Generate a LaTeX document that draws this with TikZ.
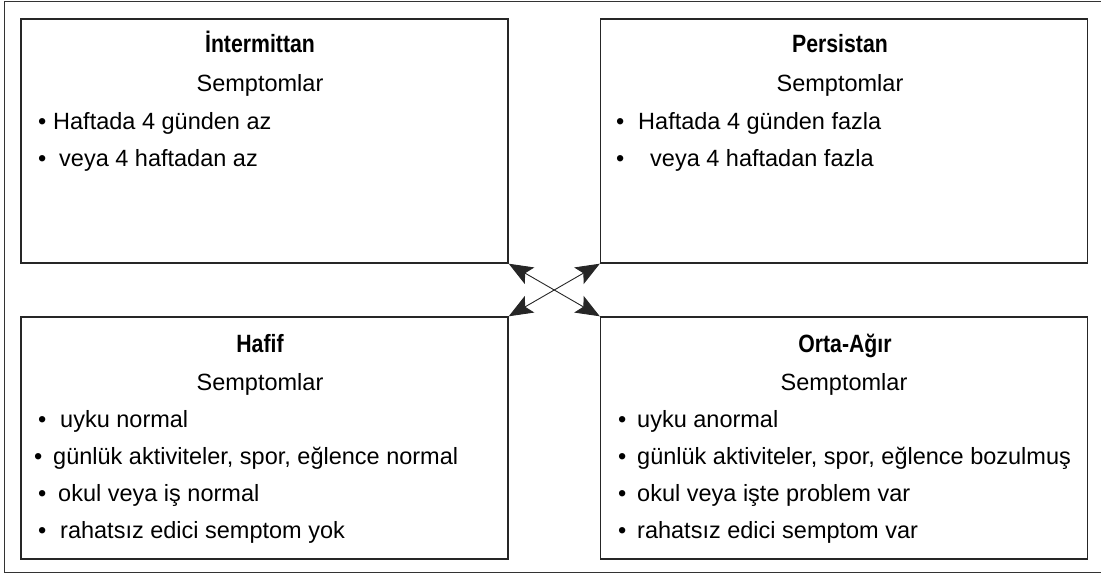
\documentclass[tikz,border=0pt]{standalone}
\usepackage{fontspec}
\setmainfont{Liberation Sans}
\newfontfamily\titlefont[FakeStretch=0.85]{Liberation Sans}
\usetikzlibrary{arrows.meta}

% bullet followed by a gap (in pt)
\newcommand{\itm}[1]{\textbullet\hspace{#1pt}}

\begin{document}
\begin{tikzpicture}[
    x=1pt, y=-1pt,
    font=\fontsize{23.5}{28}\selectfont,
    box/.style={draw=black!85, line width=1.4pt, minimum width=487pt, inner sep=0pt},
    head/.style={anchor=base, inner sep=0pt, font=\fontsize{25}{30}\selectfont\titlefont\bfseries},
    sub/.style={anchor=base, inner sep=0pt},
    item/.style={anchor=base west, inner sep=0pt},
    link/.style={{Stealth[length=24pt,width=19pt,inset=5pt]}-{Stealth[length=24pt,width=19pt,inset=5pt]}, line width=0.9pt, black!85},
]
\useasboundingbox (0,0) rectangle (1101,575);

% Outer frame
\draw[line width=1pt, black!80] (1101,2) -- (4,2) -- (4,572) -- (1101,572);

% Boxes
\node[box, minimum height=244pt] (tl) at (264.5,141) {};
\node[box, minimum height=244pt] (tr) at (844,141) {};
\node[box, minimum height=242pt] (bl) at (264.5,438) {};
\node[box, minimum height=242pt] (br) at (844,438) {};

% Intermittan
\node[head] (tlh) at (260,53) {İntermittan};
\node[sub] (tls) at (260,92) {Semptomlar};
\node[item] (tl1) at (38,130) {\itm{6.8}Haftada 4 günden az};
\node[item] (tl2) at (38,167) {\itm{12.8}veya 4 haftadan az};

% Persistan
\node[head] (trh) at (840,53) {Persistan};
\node[sub] (trs) at (840,92) {Semptomlar};
\node[item] (tr1) at (616,130) {\itm{13.8}Haftada 4 günden fazla};
\node[item] (tr2) at (616,167) {\itm{25.8}veya 4 haftadan fazla};

% Hafif
\node[head] (blh) at (260,352) {Hafif};
\node[sub] (bls) at (260,390) {Semptomlar};
\node[item] (bl1) at (38,427) {\itm{13.8}uyku normal};
\node[item] (bl2) at (34,464) {\itm{10.8}günlük aktiviteler, spor, eğlence normal};
\node[item] (bl3) at (38,501) {\itm{11.8}okul veya iş normal};
\node[item] (bl4) at (38,538) {\itm{13.8}rahatsız edici semptom yok};

% Orta-Agir
\node[head] (brh) at (845,352) {Orta-Ağır};
\node[sub] (brs) at (844,390) {Semptomlar};
\node[item] (br1) at (618,427) {\itm{10.8}uyku anormal};
\node[item] (br2) at (618,464) {\itm{10.8}günlük aktiviteler, spor, eğlence bozulmuş};
\node[item] (br3) at (618,501) {\itm{10.8}okul veya işte problem var};
\node[item] (br4) at (618,538) {\itm{10.8}rahatsız edici semptom var};

% Crossing arrows
\draw[link] (tl.south east) -- (br.north west);
\draw[link] (bl.north east) -- (tr.south west);

\end{tikzpicture}
\end{document}
